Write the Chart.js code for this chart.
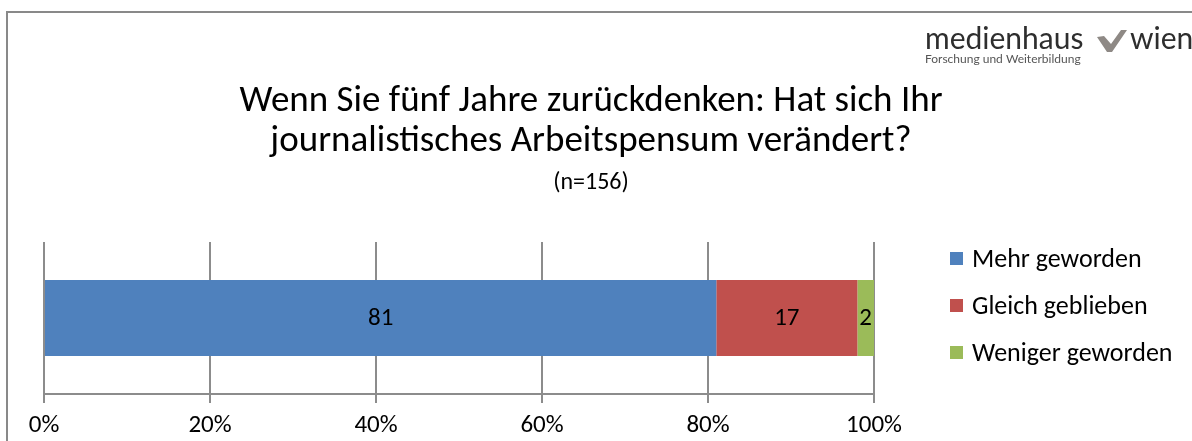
<!DOCTYPE html>
<html>
<head>
<meta charset="utf-8">
<script src="https://cdn.jsdelivr.net/npm/chart.js@4.4.1/dist/chart.umd.min.js"></script>
<style>
  html, body { margin: 0; padding: 0; background: #FFFFFF; }
  #wrap { position: relative; width: 1192px; height: 441px; font-family: Carlito, Calibri, Lato, "Open Sans", sans-serif; color: #000000; }
  #title {
    position: absolute;
    left: 0;
    top: 79px;
    width: 1182px;
    text-align: center;
    font-size: 37px;
    line-height: 40px;
  }
  #subtitle {
    position: absolute;
    left: 0;
    top: 167px;
    width: 1182px;
    text-align: center;
    font-size: 24px;
    line-height: 28px;
  }
  #legend {
    position: absolute;
    left: 950px;
    top: 240px;
    margin: 0;
    padding: 0;
    list-style: none;
    font-size: 26px;
  }
  #legend li { display: flex; align-items: center; height: 36px; margin-bottom: 11px; white-space: nowrap; }
  #legend .swatch { width: 13px; height: 13px; margin-right: 9px; flex: none; }
</style>
</head>
<body>
<div id="wrap">
  <canvas id="chart"></canvas>
  <div id="title"></div>
  <div id="subtitle"></div>
  <ul id="legend"></ul>
</div>
<script>
const categories = [""];
const seriesLabels = ["Mehr geworden", "Gleich geblieben", "Weniger geworden"];
const seriesValues = [[81], [17], [2]];
const seriesColors = ["#4F81BD", "#C0504D", "#9BBB59"];
const tickValues = [0, 20, 40, 60, 80, 100];
const titleLines = ["Wenn Sie fünf Jahre zurückdenken: Hat sich Ihr", "journalistisches Arbeitspensum verändert?"];
const subtitleText = "(n=156)";

const FONT = 'Carlito, Calibri, Lato, "Open Sans", sans-serif';
const GRID = "#8C8C8C";

const frameAndLogoPlugin = {
  id: "frameAndLogo",
  beforeDraw(chart) {
    const { ctx } = chart;
    ctx.save();
    ctx.fillStyle = "#FFFFFF";
    ctx.fillRect(0, 0, chart.width, chart.height);
    ctx.fillStyle = "#898989";
    ctx.fillRect(6, 11, 2, chart.height - 11);
    ctx.fillRect(6, 11, chart.width - 6, 2);
    ctx.restore();
  },
  afterDraw(chart) {
    const { ctx } = chart;
    ctx.save();
    ctx.textBaseline = "alphabetic";
    ctx.textAlign = "left";
    ctx.fillStyle = "#2E2E2E";
    ctx.font = '400 30px Lato, "DejaVu Sans", sans-serif';
    ctx.fillText("medienhaus", 925, 49, 163);
    ctx.fillText("wien", 1130, 49, 64);

    // check mark of the logo
    ctx.fillStyle = "#8E8985";
    ctx.beginPath();
    ctx.moveTo(1097, 37);
    ctx.lineTo(1104, 36);
    ctx.lineTo(1111, 44);
    ctx.lineTo(1121, 30);
    ctx.lineTo(1127, 30);
    ctx.lineTo(1112, 52);
    ctx.lineTo(1107, 52);
    ctx.closePath();
    ctx.fill();

    ctx.fillStyle = "#555555";
    ctx.font = '12px Lato, "DejaVu Sans", sans-serif';
    ctx.fillText("Forschung und Weiterbildung", 925, 63, 165);
    ctx.restore();
  },
};

const segmentLabelsPlugin = {
  id: "segmentLabels",
  afterDatasetsDraw(chart) {
    const { ctx } = chart;
    ctx.save();
    ctx.fillStyle = "#000000";
    ctx.font = "25px " + FONT;
    ctx.textAlign = "center";
    ctx.textBaseline = "middle";
    chart.data.datasets.forEach((dataset, i) => {
      const meta = chart.getDatasetMeta(i);
      meta.data.forEach((bar, j) => {
        const x = (bar.x + bar.base) / 2;
        ctx.fillText(String(dataset.data[j]), x, bar.y + 1);
      });
    });
    ctx.restore();
  },
};

// title and legend as html around the canvas
const titleEl = document.getElementById("title");
titleLines.forEach((line) => {
  const div = document.createElement("div");
  div.textContent = line;
  titleEl.appendChild(div);
});
document.getElementById("subtitle").textContent = subtitleText;

const legendEl = document.getElementById("legend");
seriesLabels.forEach((label, i) => {
  const li = document.createElement("li");
  const swatch = document.createElement("span");
  swatch.className = "swatch";
  swatch.style.background = seriesColors[i];
  li.appendChild(swatch);
  li.appendChild(document.createTextNode(label));
  legendEl.appendChild(li);
});

new Chart(document.getElementById("chart"), {
  type: "bar",
  plugins: [frameAndLogoPlugin, segmentLabelsPlugin],
  data: {
    labels: categories,
    datasets: seriesLabels.map((label, i) => ({
      label,
      data: seriesValues[i],
      backgroundColor: seriesColors[i],
      borderWidth: 0,
      categoryPercentage: 1,
      barPercentage: 0.5,
    })),
  },
  options: {
    indexAxis: "y",
    responsive: true,
    maintainAspectRatio: false,
    animation: false,
    layout: {
      padding: { top: 242, right: 318, bottom: 0, left: 44 },
    },
    plugins: {
      legend: { display: false },
      tooltip: { enabled: false },
    },
    scales: {
      x: {
        stacked: true,
        min: 0,
        max: 100,
        afterBuildTicks(scale) {
          scale.ticks = tickValues.map((value) => ({ value }));
        },
        afterFit(scale) {
          scale.height = 47;
        },
        ticks: {
          color: "#000000",
          font: { family: FONT, size: 25 },
          padding: 8,
          callback(value) {
            return value + "%";
          },
        },
        grid: {
          color: GRID,
          lineWidth: 2,
          tickLength: 9,
        },
        border: {
          color: GRID,
          width: 2,
        },
      },
      y: {
        stacked: true,
        display: false,
      },
    },
  },
});
</script>
</body>
</html>
